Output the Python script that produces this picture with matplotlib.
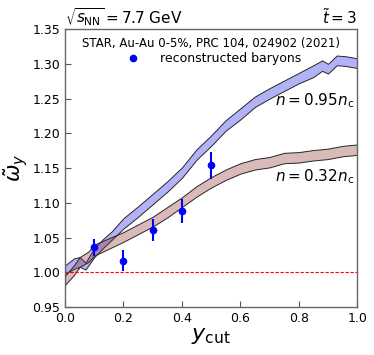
import matplotlib
matplotlib.use("Agg")
import matplotlib.pyplot as plt
from matplotlib.lines import Line2D

# Blue band n = 0.95 n_c
xb = [0.00, 0.03, 0.05, 0.07, 0.10, 0.13, 0.16, 0.20, 0.25, 0.30, 0.35, 0.40, 0.45, 0.50,
      0.55, 0.60, 0.65, 0.70, 0.75, 0.80, 0.85, 0.88, 0.90, 0.93, 0.96, 1.00]
blue_lo = [0.998, 1.005, 1.008, 1.004, 1.022, 1.035, 1.047, 1.063, 1.080, 1.098, 1.116, 1.136,
           1.162, 1.182, 1.204, 1.220, 1.238, 1.250, 1.261, 1.272, 1.281, 1.290, 1.286, 1.298, 1.297, 1.294]
blue_hi = [1.010, 1.020, 1.022, 1.014, 1.035, 1.048, 1.059, 1.078, 1.095, 1.113, 1.131, 1.151,
           1.177, 1.197, 1.219, 1.236, 1.253, 1.265, 1.276, 1.287, 1.298, 1.305, 1.300, 1.312, 1.311, 1.308]

# Red band n = 0.32 n_c
xr = [0.00, 0.03, 0.05, 0.08, 0.10, 0.15, 0.20, 0.25, 0.30, 0.35, 0.40, 0.45, 0.50,
      0.55, 0.60, 0.65, 0.70, 0.75, 0.80, 0.85, 0.90, 0.95, 1.00]
red_lo = [0.982, 0.996, 1.008, 1.015, 1.024, 1.034, 1.044, 1.055, 1.066, 1.079, 1.094, 1.109, 1.122,
          1.133, 1.142, 1.148, 1.151, 1.157, 1.158, 1.161, 1.163, 1.167, 1.169]
red_hi = [0.995, 1.010, 1.022, 1.030, 1.040, 1.049, 1.058, 1.069, 1.080, 1.094, 1.108, 1.124, 1.137,
          1.148, 1.157, 1.163, 1.166, 1.172, 1.173, 1.176, 1.178, 1.182, 1.184]

# STAR data
x_data = [0.1, 0.2, 0.3, 0.4, 0.5]
y_data = [1.036, 1.017, 1.061, 1.088, 1.154]
y_err = [0.012, 0.015, 0.016, 0.017, 0.019]

fig = plt.figure(figsize=(3.74, 3.55), dpi=100)
ax = fig.add_axes([0.174, 0.135, 0.781, 0.783])

ax.fill_between(xb, blue_lo, blue_hi, facecolor=(0.0, 0.0, 0.9, 0.3), edgecolor=(0.15, 0.15, 0.15, 1.0), linewidth=0.7)
ax.fill_between(xr, red_lo, red_hi, facecolor=(0.55, 0.15, 0.15, 0.32), edgecolor=(0.15, 0.15, 0.15, 1.0), linewidth=0.7)
ax.axhline(1.0, color='red', linestyle='--', linewidth=0.8, dashes=(3, 1.5))

ax.errorbar(x_data, y_data, yerr=y_err, fmt='o', color='blue', markersize=4.5, elinewidth=1.5, capsize=0, zorder=5)

ax.set_xlim(0, 1)
ax.set_ylim(0.95, 1.35)
ax.set_xticks([0.0, 0.2, 0.4, 0.6, 0.8, 1.0])
ax.set_yticks([0.95, 1.0, 1.05, 1.1, 1.15, 1.2, 1.25, 1.3, 1.35])
ax.tick_params(direction='in', labelsize=9, length=4, color='#555555')
for s in ax.spines.values():
    s.set_color('#666666')
    s.set_linewidth(1.0)

ax.set_xlabel(r'$y_{\rm cut}$', fontsize=16, labelpad=1)
ax.set_ylabel(r'$\tilde{\omega}_y$', fontsize=15, labelpad=2)
ax.set_title(r'$\sqrt{s_{\rm NN}}=7.7$ GeV', loc='left', fontsize=11, pad=4)
ax.set_title(r'$\tilde{t}=3$', loc='right', fontsize=11, pad=4)

ax.text(0.99, 1.247, r'$n=0.95n_{\rm c}$', ha='right', va='center', fontsize=11)
ax.text(0.99, 1.137, r'$n=0.32n_{\rm c}$', ha='right', va='center', fontsize=11)

handle = Line2D([], [], marker='o', linestyle='none', color='blue', markersize=4.5)
leg = ax.legend([handle], ['reconstructed baryons'], loc='upper center', frameon=False, fontsize=9,
                title='STAR, Au-Au 0-5%, PRC 104, 024902 (2021)', title_fontsize=8.5,
                borderaxespad=0.2, handletextpad=1.2, labelspacing=0.2)

fig.savefig('out.png', dpi=100)
